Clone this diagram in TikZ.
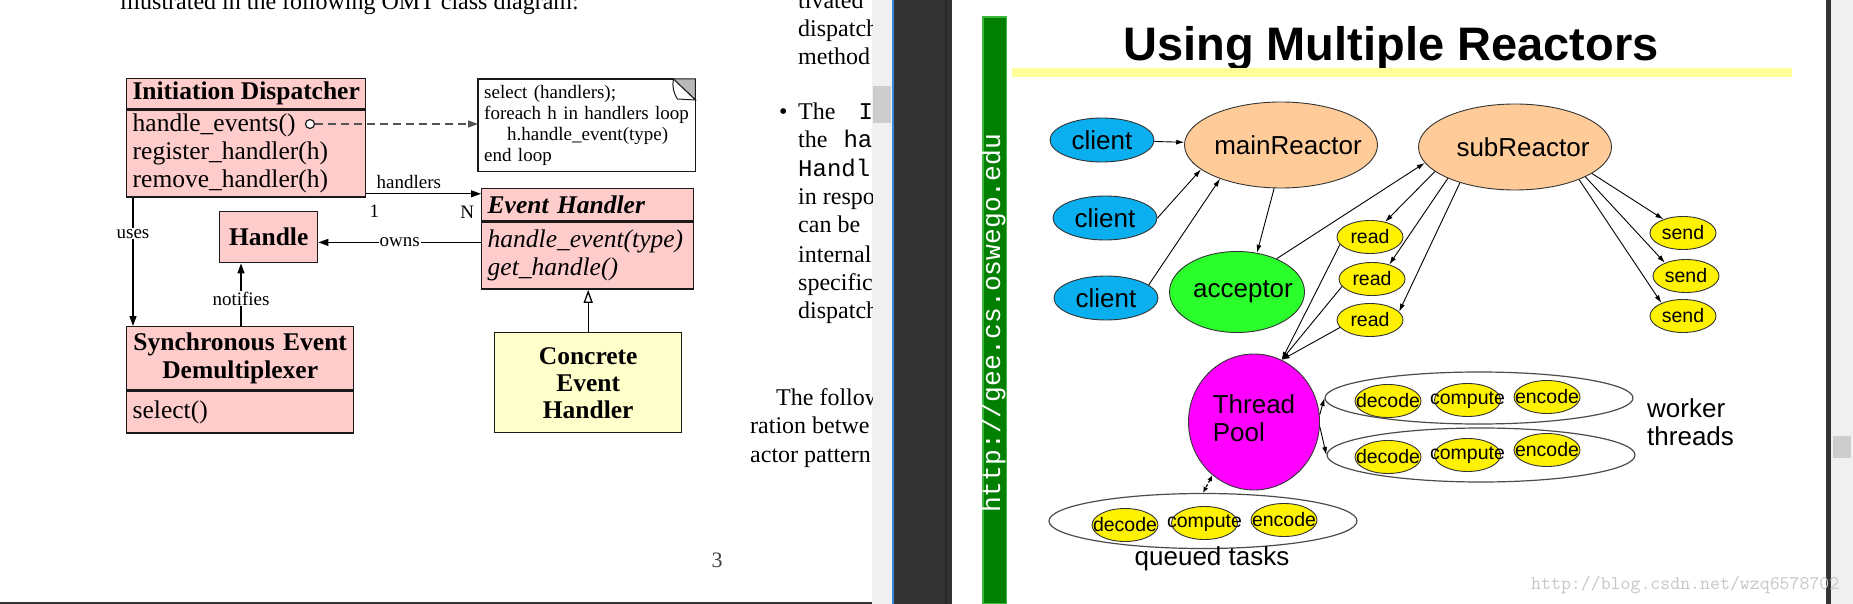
\documentclass[tikz,border=0pt]{standalone}
\usepackage{fontspec}
\setmainfont{Liberation Serif}
\newfontfamily\slidesans{Liberation Sans}
\newfontfamily\codefont{Liberation Mono}
\usetikzlibrary{shapes.geometric,arrows.meta,positioning}

\definecolor{umlpink}{HTML}{FFCCCC}
\definecolor{umlcream}{HTML}{FFFFCC}
\definecolor{umlline}{HTML}{1A1A1A}
\definecolor{clientblue}{HTML}{0AAFF0}
\definecolor{reactorpeach}{HTML}{FFCC99}
\definecolor{acceptgreen}{HTML}{2BFF2B}
\definecolor{poolmagenta}{HTML}{FF00FF}
\definecolor{barshade}{HTML}{007F00}
\definecolor{barrim}{HTML}{3DB83D}
\definecolor{rulelemon}{HTML}{FFFF99}
\definecolor{viewerdark}{HTML}{333333}
\definecolor{viewerlight}{HTML}{F0F0F0}
\definecolor{thumbgray}{HTML}{CDCDCD}
\definecolor{focusblue}{HTML}{3C87D8}

\newcommand{\zerow}[1]{\makebox[0pt]{#1}}
\newcommand{\umltext}{\fontsize{25.5}{28}\selectfont}
\newcommand{\notetext}{\fontsize{19}{21}\selectfont}
\newcommand{\pagetext}{\fontsize{24}{28.5}\selectfont}
\newcommand{\bigsans}{\slidesans\fontsize{26}{28}\selectfont}
\newcommand{\smallsans}{\slidesans\fontsize{19.5}{20}\selectfont}

\tikzstyle{umlbox}=[draw=umlline,line width=1.4pt,fill=umlpink,anchor=north west,inner sep=0pt,inner xsep=6pt,font=\umltext]
\tikzstyle{umlwire}=[line width=1.3pt,-{Triangle[length=10pt,width=7pt]}]
\tikzstyle{edgelabel}=[fill=white,inner sep=1pt,font=\notetext]
\tikzstyle{blob}=[ellipse,draw=black!80,line width=0.9pt,inner sep=0pt,font=\bigsans]
\tikzstyle{client}=[blob,fill=clientblue,minimum width=104pt,minimum height=44pt]
\tikzstyle{reactor}=[blob,fill=reactorpeach,minimum width=193pt,minimum height=86pt]
\tikzstyle{task}=[blob,fill=yellow,minimum width=66pt,minimum height=33pt,font=\smallsans,node distance=79.5pt]
\tikzstyle{pool}=[ellipse,draw=black!70,line width=1.2pt,inner sep=0pt,minimum width=308pt,minimum height=54pt]
\tikzstyle{wire}=[line width=0.9pt,-{Latex[length=8pt,width=5pt]}]

\newcommand{\wires}[2][wire]{
	\foreach \p/\q in {#2}{
		\draw[#1] (\p) -- (\q);
	}
}

\begin{document}
\begin{tikzpicture}[x=1pt,y=-1pt]
\useasboundingbox (0,0) rectangle (1853,604);

\fill[white] (0,0) rectangle (872,604);
\fill[viewerdark] (0,601.5) rectangle (872,604);
\fill[viewerlight] (872,0) rectangle (892,604);
\fill[thumbgray] (873,86) rectangle (891,123);
\fill[focusblue] (892,0) rectangle (893.5,604);
\fill[viewerdark] (893.5,0) rectangle (952,604);
\fill[black!85] (945,0) rectangle (947,604);
\fill[white] (952,0) rectangle (1826,604);
\fill[viewerdark] (1826,0) rectangle (1831,604);
\fill[viewerlight] (1831,0) rectangle (1853,604);
\fill[thumbgray] (1833,436) rectangle (1851,458);

\begin{scope}
\clip (0,0) rectangle (872,601);
\node[anchor=base west,inner sep=0pt,font=\pagetext] (intro) at (120,10) {illustrated in the following OMT class diagram:};
\foreach \xx/\yy/\txt in {798/9/tivated, 798/37/dispatch, 798/65/method,
	798/120/{The\hspace{23pt}{\codefont I}}, 798/148/{the\hspace{16pt}{\codefont ha}},
	798/177/{\codefont Handl}, 798/205/in respo, 798/233/can be, 798/262/internal,
	798/290/specific, 798/318/dispatch, 776/405/The follow, 750/433/ration betwe,
	750/462/actor pattern}{
	\node[anchor=base west,inner sep=0pt,font=\pagetext] (line\yy) at (\xx,\yy) {\txt};
}
\node[anchor=base west,inner sep=0pt,font=\pagetext] (dot) at (779,120) {\textbullet};
\node[anchor=base,inner sep=0pt,font=\fontsize{22}{24}\selectfont,text=black!75] (pageno) at (717,567) {3};
\end{scope}

\node[umlbox,minimum width=239pt,minimum height=30pt,inner xsep=2pt] (disph) at (126,78) {\textbf{Initiation Dispatcher}};
\node[umlbox,minimum height=87pt,text width=227pt,align=left] (dispb) at (disph.south west) {handle\_events()\\register\_handler(h)\\remove\_handler(h)};
\node[circle,draw=umlline,fill=white,line width=1.2pt,minimum size=9pt,inner sep=0pt] (hook) at (310,124) {};

\node[anchor=north west,minimum width=217pt,minimum height=92pt,text width=205pt,inner sep=0pt,inner xsep=6pt,align=left,font=\notetext] (note) at (478,79) {select (handlers);\\foreach h in handlers loop\\\hspace*{23pt}h.handle\_event(type)\\end loop};
\draw[umlline,line width=1.3pt] ([xshift=-22pt]note.north east) -- (note.north west) -- (note.south west) -- (note.south east) -- ([yshift=-21pt]note.north east);
\draw[umlline,line width=1pt,fill=gray!55] ([xshift=-22pt]note.north east) -- (note.north east) -- ([yshift=-21pt]note.north east) -- cycle;
\draw[umlline,line width=1pt,fill=white] ([xshift=-22pt]note.north east) to[bend right=20] ([xshift=-18pt,yshift=-20pt]note.north east) -- ([yshift=-21pt]note.north east) -- cycle;

\node[umlbox,minimum width=212pt,minimum height=32pt,text width=200pt,align=left] (ehh) at (481,188) {\textbf{\textit{Event Handler}}};
\node[umlbox,minimum height=67pt,text width=200pt,align=left] (ehb) at (ehh.south west) {\textit{handle\_event(type)}\\\textit{get\_handle()}};
\node[umlbox,minimum width=98pt,minimum height=51pt,align=center] (handle) at (219,211) {\textbf{Handle}};
\node[umlbox,minimum width=227pt,minimum height=63pt,text width=215pt,align=center] (sedh) at (126,326) {\textbf{Synchronous Event}\\\textbf{Demultiplexer}};
\node[umlbox,minimum height=42pt,text width=215pt,align=left] (sedb) at (sedh.south west) {select()};
\node[umlbox,fill=umlcream,minimum width=187pt,minimum height=100pt,text width=175pt,align=center,font=\fontsize{25.5}{27}\selectfont] (conc) at (494,332) {\textbf{Concrete}\\\textbf{Event}\\\textbf{Handler}};

\draw[umlwire,umlline!75,dash pattern=on 8pt off 5pt] (hook) -- (hook -| note.west);
\draw[umlwire] ([yshift=4pt]dispb.south east) -- node[above,pos=0.37,inner sep=4pt,font=\notetext] (hlab) {handlers} node[below,pos=0.07,inner sep=11pt,font=\notetext] (one) {1} node[below,pos=0.88,inner sep=12pt,font=\notetext] (many) {N} ([yshift=4pt]dispb.south east -| ehh.west);
\draw[umlwire] ([xshift=7pt]dispb.south west) -- node[edgelabel,pos=0.28] (uselab) {uses} ([xshift=7pt]sedh.north west);
\draw[umlwire] ([xshift=115pt]sedh.north west) -- node[edgelabel,pos=0.44] (notlab) {notifies} ([xshift=115pt]sedh.north west |- handle.south);
\draw[umlwire] ([yshift=-21pt]ehb.north west) -- node[edgelabel] (ownlab) {owns} ([yshift=-21pt]ehb.north west -| handle.east);
\draw[line width=1.3pt,-{Triangle[open,length=13pt,width=9pt]}] (conc.north) -- (conc.north |- ehb.south);

\draw[fill=barshade,draw=barrim,line width=1.5pt] (982.75,17) rectangle (1006.25,604);
\node[rotate=90,anchor=base west,inner sep=0pt,text=white,font=\codefont\fontsize{26.3}{28}\selectfont] (url) at (1000,513) {http://gee.cs.oswego.edu};
\node[anchor=base west,inner sep=0pt,font=\slidesans\bfseries\fontsize{47}{50}\selectfont] (title) at (1123,61) {Using Multiple Reactors};
\fill[rulelemon] (1012,68) rectangle (1792,77);

\node[client] (c1) at (1102,140) {\zerow{client}};
\node[client,node distance=78pt,below of=c1,xshift=3pt] (c2) {\zerow{client}};
\node[client,node distance=80pt,below of=c2,xshift=1pt] (c3) {\zerow{client}};
\node[reactor] (mr) at (1281,145) {\zerow{\hspace*{14pt}mainReactor}};
\node[reactor] (sr) at (1515,147) {\zerow{\hspace*{16pt}subReactor}};
\node[blob,fill=acceptgreen,minimum width=135pt,minimum height=81pt] (acc) at (1237,292) {\zerow{\hspace*{12pt}acceptor}};

\node[task] (r1) at (1370,237) {\zerow{read}};
\node[task,node distance=42pt,below of=r1,xshift=2pt] (r2) {\zerow{read}};
\node[task,node distance=41pt,below of=r2,xshift=-2pt] (r3) {\zerow{read}};
\node[task] (s1) at (1683,233) {\zerow{send}};
\node[task,node distance=43pt,below of=s1,xshift=3pt] (s2) {\zerow{send}};
\node[task,node distance=40pt,below of=s2,xshift=-3pt] (s3) {\zerow{send}};

\node[blob,fill=poolmagenta,minimum width=131pt,minimum height=136pt] (tp) at (1254,422) {\zerow{\begin{tabular}{@{}l@{}}Thread\\Pool\end{tabular}}};

\node[pool,minimum height=52pt] (w1) at (1479,398) {};
\node[pool] (w2) at (1481,455) {};
\node[pool,minimum height=55pt] (q) at (1203,521) {};
\node[task] (w1d) at (1388,401) {\zerow{decode}};
\node[task,right of=w1d,yshift=1pt] (w1c) {\zerow{compute}};
\node[task,right of=w1c,yshift=3pt] (w1e) {\zerow{encode}};
\node[task] (w2d) at (1388,457) {\zerow{decode}};
\node[task,right of=w2d,yshift=2pt] (w2c) {\zerow{compute}};
\node[task,right of=w2c,yshift=5pt] (w2e) {\zerow{encode}};
\node[task] (qd) at (1125,525) {\zerow{decode}};
\node[task,right of=qd,yshift=2pt] (qc) {\zerow{compute}};
\node[task,right of=qc,yshift=3pt] (qe) {\zerow{encode}};

\node[anchor=base west,inner sep=0pt,font=\bigsans] (wlab) at (1647,417) {\begin{tabular}[t]{@{}l@{}}worker\\threads\end{tabular}};
\node[anchor=base,inner sep=0pt,font=\bigsans] (qlab) at (1212,565) {queued tasks};

\wires{c1/mr, c2.east/mr.197, c3.17/mr.209, mr.261/acc.63, acc.40/sr.190}
\wires{sr.197/r1.45, sr.205/r2.40, sr.213/r3.16, sr.341/s1.145, sr.337/s2.148, sr.333/s3.149}
\wires{r1.194/tp.66, r2.194/tp.66, r3.194/tp.66, tp.6/w1.west, tp.356/w2.west}
\draw[line width=1.2pt,densely dashed,{Latex[length=6pt,width=5pt]}-{Latex[length=6pt,width=5pt]}] (tp.232) -- (q.north);

\node[anchor=base west,inner sep=0pt,text=black!22,font=\ttfamily\fontsize{19.3}{20}\selectfont] (mark) at (1531,589) {http://blog.csdn.net/wzq6578702};

\end{tikzpicture}
\end{document}
